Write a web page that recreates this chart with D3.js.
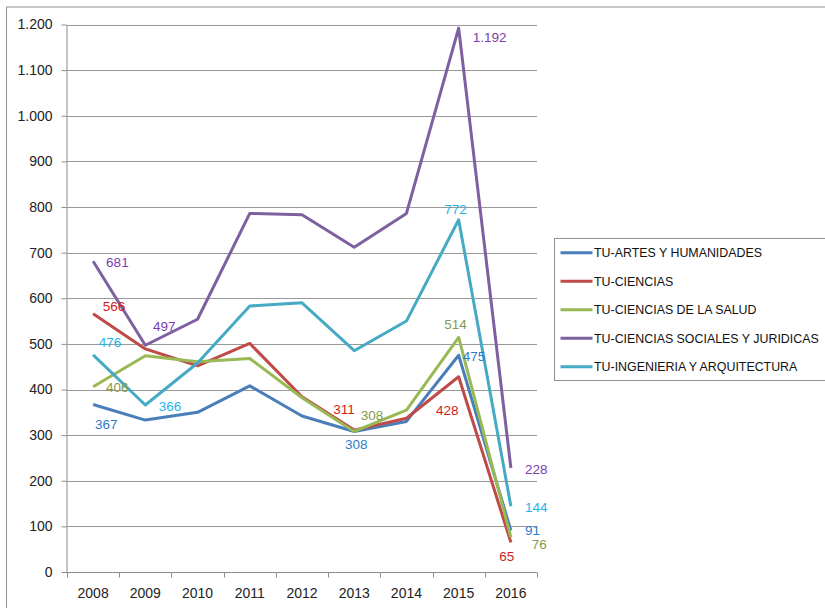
<!DOCTYPE html>
<html>
<head>
<meta charset="utf-8">
<script src="https://cdn.jsdelivr.net/npm/d3@7"></script>
<style>
  html, body { margin: 0; padding: 0; background: #fff; }
  svg { display: block; font-family: "Liberation Sans", Arial, sans-serif; }
</style>
</head>
<body>
<svg id="chart" width="825" height="608"></svg>
<script>
// Categories (x axis)
const years = ["2008", "2009", "2010", "2011", "2012", "2013", "2014", "2015", "2016"];

// Series names (legend order)
const seriesNames = [
  "TU-ARTES Y HUMANIDADES",
  "TU-CIENCIAS",
  "TU-CIENCIAS DE LA SALUD",
  "TU-CIENCIAS SOCIALES Y JURIDICAS",
  "TU-INGENIERIA Y ARQUITECTURA"
];

// Series values per year
const artesHumanidades = [367, 333, 350, 408, 342, 308, 330, 475, 91];
const ciencias         = [566, 489, 452, 501, 384, 311, 337, 428, 65];
const cienciasSalud    = [406, 474, 461, 468, 382, 308, 355, 514, 76];
const socialesJuridicas = [681, 497, 554, 786, 783, 712, 786, 1192, 228];
const ingenieriaArq    = [476, 366, 458, 583, 590, 485, 550, 772, 144];

// Y axis tick values
const yTicks = [0, 100, 200, 300, 400, 500, 600, 700, 800, 900, 1000, 1100, 1200];

const seriesValues = [artesHumanidades, ciencias, cienciasSalud, socialesJuridicas, ingenieriaArq];
const lineColors  = ["#4A7EBB", "#BE4B48", "#98B954", "#7D60A0", "#46AAC5"];
const labelColors = ["#2F7BC9", "#D01C1C", "#84994A", "#7A3DAF", "#1FB4EE"];

// Data labels: series index, year index, offset from the point (label left edge, vertical centre)
const labelLayout = [
  { s: 3, i: 0, dx: 13,  dy: 1.4 },
  { s: 1, i: 0, dx: 9.6, dy: -7.8 },
  { s: 3, i: 1, dx: 7.7, dy: -19.2 },
  { s: 4, i: 0, dx: 5.6, dy: -12.1 },
  { s: 2, i: 0, dx: 12.9, dy: 0.5 },
  { s: 4, i: 1, dx: 13.4, dy: 1 },
  { s: 0, i: 0, dx: 1.9, dy: 19.4 },
  { s: 1, i: 5, dx: -20.9, dy: -21.1 },
  { s: 2, i: 5, dx: 6.5, dy: -15.8 },
  { s: 0, i: 5, dx: -9.2, dy: 12.5 },
  { s: 1, i: 7, dx: -22.7, dy: 33.3 },
  { s: 2, i: 7, dx: -14.4, dy: -13.2 },
  { s: 0, i: 7, dx: 4, dy: 1.4 },
  { s: 4, i: 7, dx: -14.4, dy: -10.5 },
  { s: 3, i: 7, dx: 14, dy: 8.9 },
  { s: 3, i: 8, dx: 14.1, dy: 1.3 },
  { s: 4, i: 8, dx: 14.1, dy: 1 },
  { s: 0, i: 8, dx: 14.1, dy: -0.3 },
  { s: 2, i: 8, dx: 20.8, dy: 6.5 },
  { s: 1, i: 8, dx: -11.6, dy: 14.4 }
];

const esLocale = d3.formatLocale({ decimal: ",", thousands: ".", grouping: [3], currency: ["", " €"] });
const fmt = esLocale.format(",d");

const svg = d3.select("#chart");

// Outer chart frame
svg.append("rect")
  .attr("x", 6.5).attr("y", 7)
  .attr("width", 830).attr("height", 620)
  .attr("fill", "none").attr("stroke", "#8E8E8E").attr("stroke-width", 1);

const plot = { left: 67, right: 537, top: 24.5, bottom: 572 };

const x = d3.scaleBand().domain(years).range([plot.left, plot.right]);
const y = d3.scaleLinear().domain([0, 1200]).range([plot.bottom, plot.top]);

// Horizontal gridlines
svg.append("g")
  .selectAll("line")
  .data(yTicks.filter(t => t > 0))
  .join("line")
  .attr("x1", plot.left).attr("x2", plot.right)
  .attr("y1", d => Math.round(y(d)) + 0.5).attr("y2", d => Math.round(y(d)) + 0.5)
  .attr("stroke", "#999").attr("stroke-width", 1);

// Y axis
const yAxis = svg.append("g")
  .attr("transform", `translate(${plot.left - 0.5},0)`)
  .call(d3.axisLeft(y).tickValues(yTicks).tickFormat(fmt).tickSize(5).tickSizeOuter(0).tickPadding(9));
yAxis.select(".domain").attr("stroke", "#8C8C8C");
yAxis.selectAll(".tick line").attr("stroke", "#8C8C8C");
yAxis.selectAll(".tick text")
  .attr("font-size", 14)
  .attr("font-family", "Liberation Sans, Arial, sans-serif")
  .attr("fill", "#222");

// X axis: tick marks on category boundaries, labels centred in each band
const xAxisG = svg.append("g").attr("transform", `translate(0,${plot.bottom + 0.5})`);
xAxisG.append("line")
  .attr("x1", plot.left - 5).attr("x2", plot.right)
  .attr("stroke", "#8C8C8C");
xAxisG.selectAll("line.tick")
  .data(years.concat(["end"]))
  .join("line")
  .attr("class", "tick")
  .attr("x1", (d, i) => Math.round(plot.left + i * x.step()) + 0.5)
  .attr("x2", (d, i) => Math.round(plot.left + i * x.step()) + 0.5)
  .attr("y1", 0).attr("y2", 5)
  .attr("stroke", "#8C8C8C");
xAxisG.selectAll("text")
  .data(years)
  .join("text")
  .attr("x", d => x(d) + x.bandwidth() / 2)
  .attr("y", 20.5)
  .attr("dy", "0.35em")
  .attr("text-anchor", "middle")
  .attr("font-size", 14)
  .attr("fill", "#222")
  .text(d => d);

// Lines
const line = d3.line()
  .x((d, i) => x(years[i]) + x.bandwidth() / 2)
  .y(d => y(d));

svg.append("g")
  .selectAll("path")
  .data(seriesValues)
  .join("path")
  .attr("d", d => line(d))
  .attr("fill", "none")
  .attr("stroke", (d, i) => lineColors[i])
  .attr("stroke-width", 3)
  .attr("stroke-linejoin", "round");

// Data labels
svg.append("g")
  .selectAll("text")
  .data(labelLayout)
  .join("text")
  .attr("x", d => x(years[d.i]) + x.bandwidth() / 2 + d.dx)
  .attr("y", d => y(seriesValues[d.s][d.i]) + d.dy)
  .attr("dy", "0.35em")
  .attr("font-size", 13.5)
  .attr("fill", d => labelColors[d.s])
  .text(d => fmt(seriesValues[d.s][d.i]));

// Legend
const legend = svg.append("g");
legend.append("rect")
  .attr("x", 554.5).attr("y", 238.5)
  .attr("width", 300).attr("height", 142)
  .attr("fill", "#fff").attr("stroke", "#8E8E8E");
const items = legend.selectAll("g.item")
  .data(seriesNames)
  .join("g")
  .attr("class", "item")
  .attr("transform", (d, i) => `translate(0,${252.7 + i * 28.5})`);
items.append("line")
  .attr("x1", 560.5).attr("x2", 592.5)
  .attr("stroke", (d, i) => lineColors[i])
  .attr("stroke-width", 3);
items.append("text")
  .attr("x", 594)
  .attr("dy", "0.35em")
  .attr("font-size", 12.4)
  .attr("fill", "#111")
  .text(d => d);
</script>
</body>
</html>
